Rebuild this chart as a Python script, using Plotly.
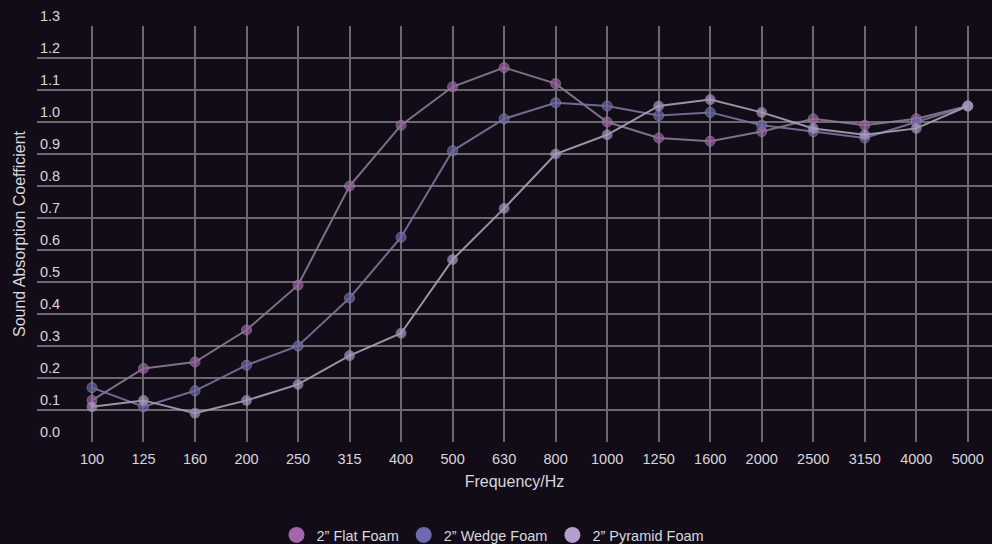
import plotly.graph_objects as go

frequencies = ["100", "125", "160", "200", "250", "315", "400", "500", "630", "800",
               "1000", "1250", "1600", "2000", "2500", "3150", "4000", "5000"]
flat_foam = [0.13, 0.23, 0.25, 0.35, 0.49, 0.80, 0.99, 1.11, 1.17, 1.12,
             1.00, 0.95, 0.94, 0.97, 1.01, 0.99, 1.01, 1.05]
wedge_foam = [0.17, 0.11, 0.16, 0.24, 0.30, 0.45, 0.64, 0.91, 1.01, 1.06,
              1.05, 1.02, 1.03, 0.99, 0.97, 0.95, 1.00, 1.05]
pyramid_foam = [0.11, 0.13, 0.09, 0.13, 0.18, 0.27, 0.34, 0.57, 0.73, 0.90,
                0.96, 1.05, 1.07, 1.03, 0.98, 0.96, 0.98, 1.05]
y_ticks = [0.0, 0.1, 0.2, 0.3, 0.4, 0.5, 0.6, 0.7, 0.8, 0.9, 1.0, 1.1, 1.2, 1.3]

series = [
    ("2\u201d Flat Foam", flat_foam, "#a465ab", "#8d7a93"),
    ("2\u201d Wedge Foam", wedge_foam, "#6e69b1", "#78769c"),
    ("2\u201d Pyramid Foam", pyramid_foam, "#b59dcc", "#a9a3b8"),
]

BG = "#110c18"
GRID = "#6c686f"
TEXT = "#d9d7dc"
FONT = "Liberation Sans, Arial, Helvetica, sans-serif"

fig = go.Figure()
for name, vals, col, linecol in series:
    fig.add_trace(go.Scatter(
        x=frequencies, y=vals, mode="lines+markers", name=name, showlegend=False,
        line=dict(color=linecol, width=2),
        marker=dict(size=10, color=col, opacity=0.75, line=dict(color="#9a94a2", width=1)),
        opacity=0.9,
    ))
for name, vals, col, linecol in series:
    fig.add_trace(go.Scatter(
        x=[None], y=[None], mode="markers", name=name, showlegend=True,
        marker=dict(size=16, color=col),
    ))

fig.update_layout(
    width=992, height=544,
    paper_bgcolor=BG, plot_bgcolor=BG,
    margin=dict(l=37, r=0, t=26, b=102),
    font=dict(family=FONT, color=TEXT, size=13),
    legend=dict(orientation="h", xref="container", x=0.497, xanchor="center",
                yref="container", y=9 / 544, yanchor="middle",
                font=dict(size=14.5, color=TEXT), itemwidth=30),
    showlegend=True,
)
fig.update_xaxes(
    type="category", range=[-1.067, 17.47], showgrid=True, gridcolor=GRID, gridwidth=2,
    showline=False, zeroline=False, ticks="", ticklabelstandoff=6, automargin=False,
    tickfont=dict(size=14.5, color=TEXT),
    title=dict(text="Frequency/Hz", font=dict(size=16, color=TEXT), standoff=10),
)
fig.update_yaxes(
    range=[0, 1.3], tickvals=y_ticks, ticktext=[f"{v:.1f}" for v in y_ticks],
    showgrid=True, gridcolor=GRID, gridwidth=2, zeroline=False, showline=False,
    ticklabelposition="inside top", ticklabeloverflow="allow",
    tickfont=dict(size=14.5, color=TEXT), automargin=False,
    title=dict(text="Sound Absorption Coefficient", font=dict(size=16, color=TEXT), standoff=10),
)

fig.write_html(
    "out.html",
    config={"displayModeBar": False},
    post_script=f"document.body.style.margin='0';document.body.style.background='{BG}';",
)
